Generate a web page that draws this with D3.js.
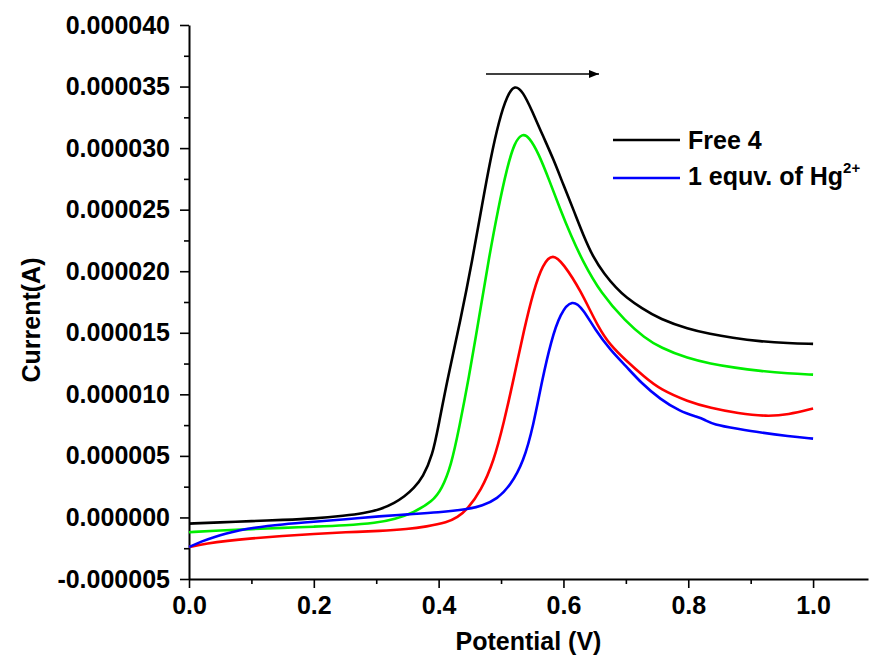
<!DOCTYPE html>
<html lang="en">
<head>
  <meta charset="utf-8">
  <title>Current vs potential</title>
  <script src="https://d3js.org/d3.v7.min.js"></script>
  <style>
    body { margin: 0; background: #fff; }
    text { font-family: Arial, "Liberation Sans", sans-serif; font-weight: bold; }
  </style>
</head>
<body>
  <svg class="chart"></svg>
  <script>
  // values: potential in V, current in microamps
  const free4V = [0, 0.05, 0.1, 0.15, 0.2, 0.25, 0.28, 0.307, 0.33, 0.345, 0.36, 0.375, 0.39, 0.4, 0.414, 0.435, 0.454, 0.47, 0.483, 0.497, 0.51, 0.522, 0.535, 0.55, 0.567, 0.584, 0.6, 0.616, 0.632, 0.648, 0.665, 0.685, 0.7, 0.725, 0.755, 0.8, 0.835, 0.87, 0.915, 0.96, 1.0];
  const free4I = [-0.5, -0.4, -0.3, -0.2, -0.1, 0.15, 0.35, 0.65, 1.2, 1.7, 2.35, 3.3, 5.0, 7.5, 11.2, 16, 20.9, 25.5, 29.1, 32.3, 34.3, 35.15, 34.6, 33.0, 31.0, 29.1, 27.0, 25.0, 22.9, 21.1, 19.8, 18.6, 17.9, 17.0, 16.1, 15.3, 14.9, 14.6, 14.3, 14.15, 14.1];

  const greenV = [0, 0.05, 0.1, 0.15, 0.2, 0.25, 0.3, 0.33, 0.36, 0.39, 0.405, 0.42, 0.433, 0.448, 0.465, 0.48, 0.495, 0.51, 0.522, 0.534, 0.545, 0.56, 0.578, 0.595, 0.612, 0.63, 0.66, 0.7, 0.73, 0.755, 0.8, 0.835, 0.875, 0.915, 0.96, 1.0];
  const greenI = [-1.2, -1.05, -0.95, -0.85, -0.75, -0.65, -0.45, -0.15, 0.4, 1.3, 2.3, 4.2, 7.3, 11.2, 16.3, 20.9, 25.0, 28.5, 30.5, 31.2, 30.9, 29.6, 27.3, 25.0, 22.9, 20.9, 18.2, 15.9, 14.6, 13.8, 12.9, 12.5, 12.15, 11.9, 11.7, 11.6];

  const redV = [0, 0.03, 0.06, 0.1, 0.15, 0.2, 0.25, 0.307, 0.35, 0.38, 0.414, 0.43, 0.446, 0.468, 0.488, 0.505, 0.52, 0.537, 0.552, 0.567, 0.583, 0.6, 0.627, 0.656, 0.675, 0.699, 0.73, 0.755, 0.8, 0.835, 0.88, 0.926, 0.96, 1.0];
  const redI = [-2.4, -2.1, -1.9, -1.7, -1.5, -1.35, -1.2, -1.1, -0.95, -0.75, -0.4, 0.0, 0.65, 2.2, 4.5, 7.8, 11.2, 15.3, 18.4, 20.6, 21.45, 20.6, 18.5, 15.4, 14.0, 12.8, 11.4, 10.4, 9.4, 8.9, 8.45, 8.2, 8.35, 8.85];

  const hgV = [0, 0.02, 0.04, 0.06, 0.08, 0.1, 0.15, 0.2, 0.25, 0.307, 0.35, 0.4, 0.446, 0.47, 0.494, 0.515, 0.536, 0.552, 0.566, 0.58, 0.595, 0.614, 0.632, 0.65, 0.675, 0.7, 0.725, 0.755, 0.787, 0.815, 0.826, 0.84, 0.88, 0.915, 0.96, 1.0];
  const hgI = [-2.4, -1.95, -1.6, -1.3, -1.05, -0.85, -0.55, -0.35, -0.15, 0.1, 0.25, 0.4, 0.65, 0.95, 1.5, 2.6, 4.5, 7.5, 11.2, 14.3, 16.6, 17.75, 16.9, 15.3, 13.6, 12.3, 10.9, 9.6, 8.6, 8.15, 7.95, 7.55, 7.2, 6.9, 6.6, 6.4];

  const xTicks = [0, 0.2, 0.4, 0.6, 0.8, 1.0];
  const yTicks = [-5, 0, 5, 10, 15, 20, 25, 30, 35, 40];

  const series = [
    { v: free4V, i: free4I, color: "#000000" },
    { v: greenV, i: greenI, color: "#00ee00" },
    { v: redV, i: redI, color: "#ff0000" },
    { v: hgV, i: hgI, color: "#0000ff" }
  ];

  const width = 871, height = 657;
  const margins = { top: 25, bottom: 78, left: 189, right: 3 };
  const fontSize = "25px";

  const svg = d3.select(".chart").attr("width", width).attr("height", height);

  const xScale = d3.scaleLinear().domain([0, 1.088]).range([margins.left, width - margins.right]);
  const yScale = d3.scaleLinear().domain([-5, 40]).range([height - margins.bottom, margins.top]);

  // minor ticks
  svg.append("g")
    .attr("transform", "translate(0," + (height - margins.bottom) + ")")
    .call(d3.axisBottom(xScale).tickValues(d3.range(0.1, 1.09, 0.2)).tickSize(5).tickFormat(""))
    .call(g => g.select(".domain").remove());
  svg.append("g")
    .attr("transform", "translate(" + margins.left + ",0)")
    .call(d3.axisLeft(yScale).tickValues(d3.range(-2.5, 40, 5)).tickSize(5).tickFormat(""))
    .call(g => g.select(".domain").remove());

  svg.append("g")
    .attr("id", "x-axis")
    .attr("transform", "translate(0," + (height - margins.bottom) + ")")
    .call(d3.axisBottom(xScale).tickValues(xTicks).tickSize(9).tickSizeOuter(0).tickPadding(8).tickFormat(d3.format(".1f")));
  svg.append("g")
    .attr("id", "y-axis")
    .attr("transform", "translate(" + margins.left + ",0)")
    .call(d3.axisLeft(yScale).tickValues(yTicks).tickSize(9).tickSizeOuter(0).tickPadding(10).tickFormat(d => (d * 1e-6).toFixed(6)));

  svg.selectAll(".domain").attr("stroke-width", 2);
  svg.selectAll(".tick line").attr("stroke-width", 1.6);
  svg.selectAll(".tick text").style("font-size", fontSize).attr("fill", "#000");

  // curves
  const line = d3.line()
    .x(d => xScale(d[0]))
    .y(d => yScale(d[1]))
    .curve(d3.curveBasis);

  series.forEach(s => {
    svg.append("path")
      .datum(d3.zip(s.v, s.i))
      .attr("fill", "none")
      .attr("stroke", s.color)
      .attr("stroke-width", 2.6)
      .attr("stroke-linejoin", "round")
      .attr("d", line);
  });

  // axis titles
  svg.append("text")
    .attr("x", (margins.left + width - margins.right) / 2)
    .attr("y", 650)
    .attr("text-anchor", "middle")
    .style("font-size", fontSize)
    .text("Potential (V)");
  svg.append("text")
    .attr("transform", "translate(40,320) rotate(-90)")
    .attr("text-anchor", "middle")
    .style("font-size", fontSize)
    .text("Current(A)");

  // scan direction arrow
  svg.append("defs").append("marker")
    .attr("id", "head").attr("viewBox", "0 0 10 10")
    .attr("refX", 10).attr("refY", 5)
    .attr("markerWidth", 11).attr("markerHeight", 10)
    .attr("markerUnits", "userSpaceOnUse")
    .attr("orient", "auto")
    .append("path").attr("d", "M0,1 L10,5 L0,9 Z").attr("fill", "#000");
  svg.append("line")
    .attr("x1", 486).attr("y1", 74).attr("x2", 599).attr("y2", 74)
    .attr("stroke", "#000").attr("stroke-width", 1.6)
    .attr("marker-end", "url(#head)");

  // legend
  const legend = svg.append("g").attr("transform", "translate(613,140)");
  legend.append("line").attr("x1", 0).attr("x2", 67).attr("y1", 0).attr("y2", 0)
    .attr("stroke", "#000").attr("stroke-width", 2.4);
  legend.append("text").attr("x", 75).attr("y", 9).style("font-size", fontSize).text("Free 4");
  legend.append("line").attr("x1", 0).attr("x2", 67).attr("y1", 38).attr("y2", 38)
    .attr("stroke", "#0000ff").attr("stroke-width", 2.4);
  const t2 = legend.append("text").attr("x", 75).attr("y", 45).style("font-size", fontSize);
  t2.append("tspan").text("1 equv. of Hg");
  t2.append("tspan").attr("dy", -12).style("font-size", "15px").text("2+");
  </script>
</body>
</html>
